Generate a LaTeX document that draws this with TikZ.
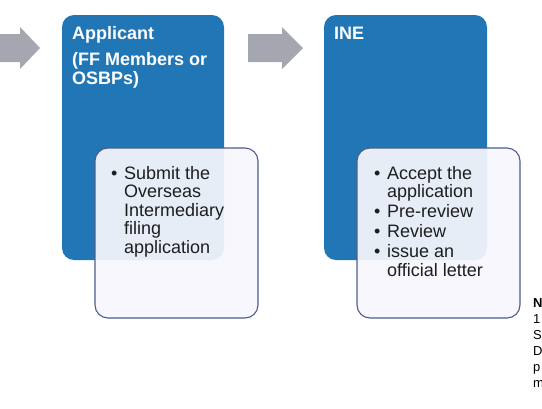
\documentclass[tikz,border=0pt]{standalone}
\usepackage{fontspec}
\setmainfont{Liberation Sans}
\definecolor{boxblue}{RGB}{33,119,182}
\definecolor{arrowgray}{RGB}{164,167,176}
\definecolor{edgeblue}{RGB}{78,92,140}
\definecolor{overlay}{RGB}{246,246,253}
\definecolor{txt}{RGB}{30,30,30}
\tikzset{
  bluebox/.style={fill=boxblue, rounded corners=12pt},
  whitebox/.style={fill=overlay, fill opacity=0.93, draw=edgeblue, draw opacity=1, line width=1.1pt, rounded corners=13pt},
  grayarrow/.style={fill=arrowgray},
  titletext/.style={anchor=base west, inner sep=0pt, text=white, font=\fontsize{18}{18.4}\selectfont\bfseries},
  listtext/.style={anchor=base west, inner sep=0pt, text=txt, font=\fontsize{18}{18.6}\selectfont},
  notetext/.style={anchor=base west, inner sep=0pt, text=black, font=\fontsize{13}{16.1}\selectfont}
}
\newcommand{\bul}{\makebox[13pt][l]{•}}
\begin{document}
\begin{tikzpicture}[x=1pt,y=-1pt]
\useasboundingbox (0,0) rectangle (542,408);
% arrows
\fill[grayarrow] (0,34) -- (20,34) -- (20,27) -- (40,48) -- (20,69) -- (20,62) -- (0,62) -- cycle;
\fill[grayarrow] (248,34) -- (282,34) -- (282,27) -- (303,48) -- (282,69) -- (282,62) -- (248,62) -- cycle;
% blue boxes
\fill[bluebox] (62,15) rectangle (224,260);
\fill[bluebox] (324,15) rectangle (487,260);
% white boxes
\path[whitebox] (95,148) rectangle (258,318);
\path[whitebox] (357,148) rectangle (520,318);
% titles
\node[titletext] (t1) at (72,39) {\begin{tabular}[t]{@{}l@{}}Applicant\\[8pt] (FF Members or\\ OSBPs)\end{tabular}};
\node[titletext] (t2) at (334,39) {INE};
% lists
\node[listtext] (l1) at (111,179) {\begin{tabular}[t]{@{}l@{}}\bul Submit the\\ \hspace{13pt}Overseas\\ \hspace{13pt}Intermediary\\ \hspace{13pt}filing\\ \hspace{13pt}application\end{tabular}};
\node[listtext] (l2) at (374,179) {\begin{tabular}[t]{@{}l@{}}\bul Accept the\\ \hspace{13pt}application\\[1.5pt] \bul Pre-review\\[1.5pt] \bul Review\\[1.5pt] \bul issue an\\ \hspace{13pt}official letter\end{tabular}};
% note (cut off at the right edge, as in the reference)
\node[notetext] (n1) at (533,307) {\begin{tabular}[t]{@{}l@{}}\textbf{N}\\ 1\\ S\\ D\\ p\\ m\end{tabular}};
\end{tikzpicture}
\end{document}
